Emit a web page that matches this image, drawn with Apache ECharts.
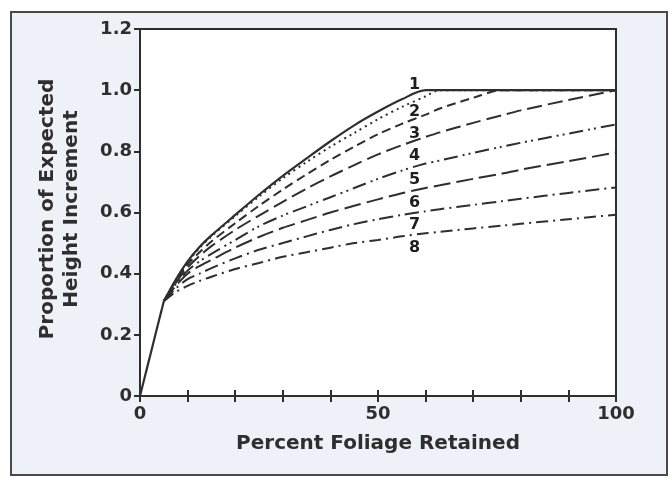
<!DOCTYPE html>
<html>
<head>
<meta charset="utf-8">
<script src="https://cdn.jsdelivr.net/npm/echarts@6/dist/echarts.min.js"></script>
<style>
  html, body { margin:0; padding:0; background:#ffffff; }
  #frame { position:absolute; left:10px; top:11px; width:654px; height:461px; border:2px solid #4a4a4a; background:#eef1f7; }
  #chart { position:absolute; left:0; top:0; width:670px; height:481px; }
</style>
</head>
<body>
<div id="frame"></div>
<div id="chart"></div>
<script>
// Percent foliage retained (x) sample points shared by all curves
const foliage = [0, 5, 7.5, 10, 12.5, 15, 20, 25, 30, 35, 40, 45, 50, 55, 60, 63, 70, 76, 80, 90, 100];

// Proportion of expected height increment, curves 1..8
const curve1 = [0, 0.31, 0.38, 0.44, 0.487, 0.525, 0.592, 0.658, 0.72, 0.777, 0.833, 0.885, 0.93, 0.97, 1.0, 1.0, 1.0, 1.0, 1.0, 1.0, 1.0];
const curve2 = [0, 0.31, 0.378, 0.437, 0.484, 0.522, 0.588, 0.652, 0.712, 0.765, 0.815, 0.86, 0.905, 0.945, 0.98, 1.0, 1.0, 1.0, 1.0, 1.0, 1.0];
const curve3 = [0, 0.31, 0.375, 0.43, 0.47, 0.505, 0.565, 0.622, 0.675, 0.725, 0.772, 0.815, 0.856, 0.89, 0.92, 0.94, 0.975, 1.0, 1.0, 1.0, 1.0];
const curve4 = [0, 0.31, 0.37, 0.42, 0.458, 0.49, 0.543, 0.59, 0.635, 0.678, 0.718, 0.755, 0.79, 0.82, 0.847, 0.862, 0.893, 0.918, 0.934, 0.968, 1.0];
const curve5 = [0, 0.31, 0.365, 0.41, 0.44, 0.465, 0.51, 0.555, 0.59, 0.62, 0.65, 0.68, 0.71, 0.737, 0.76, 0.77, 0.795, 0.815, 0.828, 0.858, 0.888];
const curve6 = [0, 0.31, 0.36, 0.40, 0.425, 0.445, 0.485, 0.52, 0.55, 0.575, 0.60, 0.622, 0.643, 0.663, 0.68, 0.689, 0.71, 0.727, 0.74, 0.768, 0.796];
const curve7 = [0, 0.31, 0.352, 0.382, 0.40, 0.418, 0.45, 0.478, 0.50, 0.522, 0.543, 0.562, 0.578, 0.592, 0.604, 0.611, 0.625, 0.637, 0.645, 0.664, 0.682];
const curve8 = [0, 0.31, 0.34, 0.36, 0.376, 0.39, 0.415, 0.435, 0.455, 0.47, 0.485, 0.50, 0.51, 0.522, 0.532, 0.537, 0.548, 0.557, 0.563, 0.578, 0.593];

// Curve label names and their anchor positions (data units)
const curveNames = ['1', '2', '3', '4', '5', '6', '7', '8'];
const labelX = [57.7, 57.7, 57.7, 57.7, 57.7, 57.7, 57.7, 57.7];
const labelY = [1.018, 0.928, 0.857, 0.785, 0.706, 0.633, 0.561, 0.486];

// Axis tick labels
const xTickLabels = [0, 50, 100];
const yTickLabels = ['0', '0.2', '0.4', '0.6', '0.8', '1.0', '1.2'];

const curves = [curve1, curve2, curve3, curve4, curve5, curve6, curve7, curve8];
const dashes = ['solid', [2, 4], [9, 5], [15, 6], [14, 5, 2, 4, 2, 5], [17, 6], [14, 5, 2, 5], [12, 5, 2, 5]];
const ink = '#2e2e2e';
const font = 'DejaVu Sans';

// shared straight initial segment (first two samples, identical for all curves)
const series = [{
  type: 'line',
  data: foliage.slice(0, 2).map((x, j) => [x, curve1[j]]),
  showSymbol: false, symbol: 'none',
  lineStyle: { color: ink, width: 2.2, type: 'solid' }, z: 12
}];

curves.forEach((c, i) => {
  series.push({
    type: 'line',
    name: curveNames[i],
    data: foliage.map((x, j) => [x, c[j]]).slice(1),
    smooth: 0.3,
    showSymbol: false,
    symbol: 'none',
    lineStyle: { color: ink, width: i === 0 ? 2.2 : 2, type: dashes[i] },
    z: 10 - i
  });
});

series.push({
  type: 'scatter',
  data: curveNames.map((n, i) => ({ name: n, value: [labelX[i], labelY[i]] })),
  symbolSize: 0,
  itemStyle: { opacity: 0 },
  label: {
    show: true, position: 'inside', formatter: p => p.name,
    color: '#1e1e1e', fontFamily: font, fontWeight: 'bold', fontSize: 16,
    textBorderWidth: 0, opacity: 1
  },
  z: 20
});

const chart = echarts.init(document.getElementById('chart'), null, { renderer: 'canvas' });
chart.setOption({
  animation: false,
  backgroundColor: 'transparent',
  grid: { left: 140, right: 54, top: 29, bottom: 85, show: true, backgroundColor: '#ffffff', borderColor: ink, borderWidth: 2 },
  xAxis: [{
    type: 'value', min: 0, max: 100, interval: 10, position: 'bottom',
    axisLine: { show: true, lineStyle: { color: ink, width: 2 } },
    axisTick: { show: true, inside: true, length: 6, lineStyle: { color: ink, width: 2 } },
    splitLine: { show: false },
    axisLabel: {
      color: ink, fontFamily: font, fontWeight: 'bold', fontSize: 18, margin: 9,
      formatter: v => (xTickLabels.indexOf(v) >= 0 ? String(v) : '')
    },
    name: 'Percent Foliage Retained', nameLocation: 'middle', nameGap: 38,
    nameTextStyle: { color: ink, fontFamily: font, fontWeight: 'bold', fontSize: 20 }
  }, {
    type: 'value', min: 0, max: 100, interval: 10, position: 'top',
    axisLine: { show: true, lineStyle: { color: ink, width: 2 } },
    axisTick: { show: true, inside: true, length: 6, lineStyle: { color: ink, width: 2 } },
    axisLabel: { show: false }, splitLine: { show: false }
  }],
  yAxis: [{
    type: 'value', min: 0, max: 1.2, interval: 0.2, position: 'left',
    axisLine: { show: true, lineStyle: { color: ink, width: 2 } },
    axisTick: { show: true, inside: false, length: 6, lineStyle: { color: ink, width: 2 } },
    splitLine: { show: false },
    axisLabel: {
      color: ink, fontFamily: font, fontWeight: 'bold', fontSize: 18, margin: 8,
      formatter: (v) => yTickLabels[Math.round(v / 0.2)]
    }
  }, {
    type: 'value', min: 0, max: 1.2, interval: 0.2, position: 'right',
    axisLine: { show: true, lineStyle: { color: ink, width: 2 } },
    axisTick: { show: true, inside: true, length: 6, lineStyle: { color: ink, width: 2 } },
    axisLabel: { show: false }, splitLine: { show: false }
  }],
  graphic: [{
    type: 'text', x: 60, y: 209, rotation: Math.PI / 2,
    style: {
      text: 'Proportion of Expected\nHeight Increment', fill: ink,
      font: 'bold 20px "DejaVu Sans"', align: 'center', verticalAlign: 'middle', lineHeight: 24
    }
  }],
  series: series
});
</script>
</body>
</html>
